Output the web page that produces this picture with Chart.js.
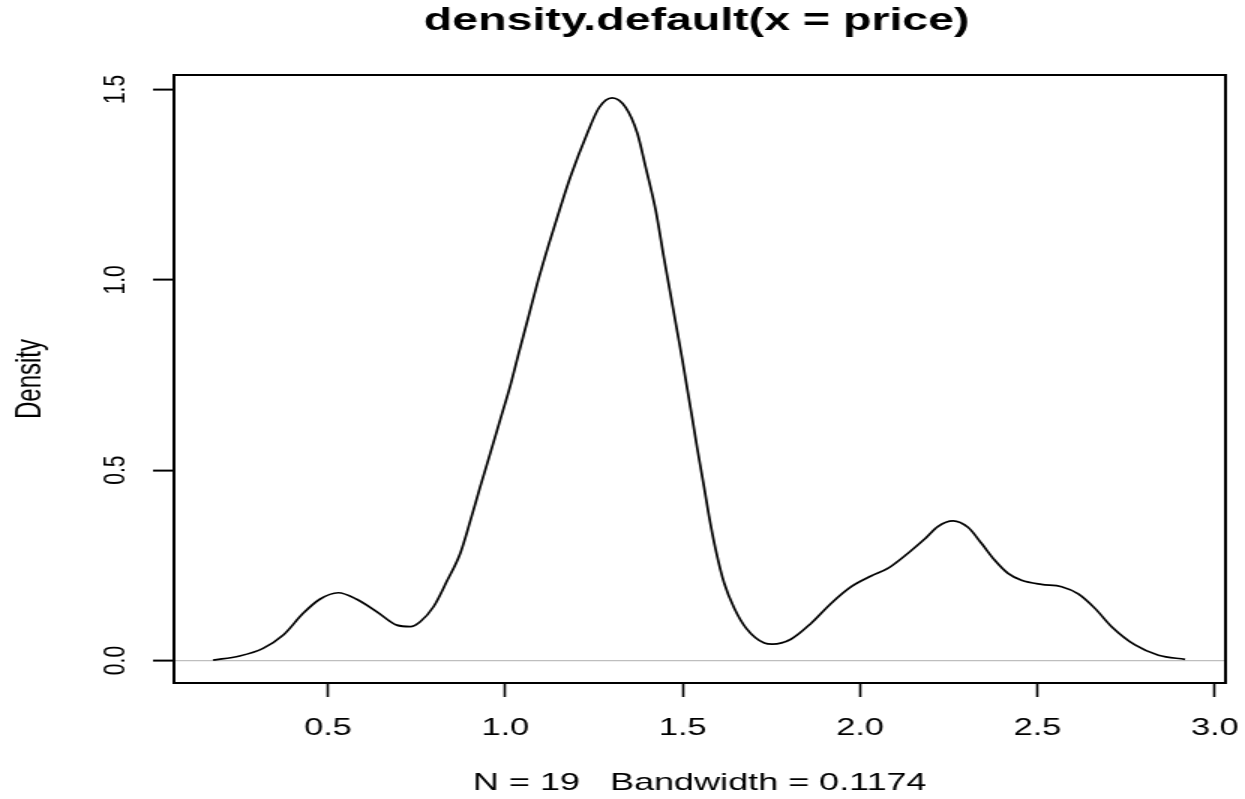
<!DOCTYPE html>
<html>
<head>
<meta charset="utf-8">
<title>density.default(x = price)</title>
<script src="https://cdn.jsdelivr.net/npm/chart.js@4.4.1/dist/chart.umd.min.js"></script>
<style>
    html, body { margin: 0; padding: 0; background: #fff; overflow: hidden; }
</style>
</head>
<body>
<!-- the reference is a stretched R plot, so draw narrow and widen with css -->
<canvas id="densityChart" width="830" height="799" style="width:1245px;height:799px;display:block"></canvas>
<script>
// ==========================
// DATA
// ==========================
const mainTitle = "density.default(x = price)";
const xTitle = "N = 19   Bandwidth = 0.1174";
const yTitle = "Density";

const xTicks = [0.5, 1.0, 1.5, 2.0, 2.5, 3.0];
const yTicks = [0.0, 0.5, 1.0, 1.5];
const xRange = [0.066, 3.030];
const yRange = [-0.059, 1.538];

// points
const price = [
    0.176, 0.251, 0.317, 0.374, 0.430, 0.477, 0.529, 0.581, 0.638, 0.694,
    0.732, 0.760, 0.798, 0.835, 0.873, 0.901, 0.929, 0.958, 0.986, 1.014,
    1.038, 1.066, 1.092, 1.122, 1.155, 1.184, 1.231, 1.264, 1.301, 1.339,
    1.372, 1.395, 1.424, 1.447, 1.466, 1.485, 1.499, 1.508, 1.527, 1.541,
    1.560, 1.574, 1.593, 1.617, 1.645, 1.678, 1.730, 1.753, 1.805, 1.862,
    1.918, 1.975, 2.031, 2.078, 2.135, 2.182, 2.219, 2.262, 2.304, 2.342,
    2.379, 2.417, 2.455, 2.511, 2.568, 2.615, 2.662, 2.709, 2.775, 2.841,
    2.916
];
const density = [
    0.001, 0.012, 0.032, 0.067, 0.124, 0.161, 0.178, 0.161, 0.128, 0.093,
    0.089, 0.102, 0.142, 0.208, 0.282, 0.366, 0.456, 0.546, 0.634, 0.722,
    0.808, 0.906, 0.997, 1.092, 1.190, 1.272, 1.385, 1.452, 1.478, 1.453,
    1.385, 1.298, 1.182, 1.058, 0.960, 0.862, 0.790, 0.740, 0.636, 0.557,
    0.457, 0.380, 0.291, 0.203, 0.138, 0.086, 0.046, 0.043, 0.056, 0.098,
    0.150, 0.194, 0.222, 0.242, 0.282, 0.319, 0.352, 0.367, 0.350, 0.308,
    0.264, 0.229, 0.211, 0.200, 0.194, 0.175, 0.137, 0.089, 0.041, 0.014,
    0.003
];

const fontFamily = '"Liberation Sans", Arial, Helvetica, sans-serif';

// ==========================
// BOX + MAIN TITLE
// ==========================
const plotBox = {
    id: "plotBox",
    afterDraw(chart) {
        const ctx = chart.ctx;
        const a = chart.chartArea;
        ctx.save();
        ctx.strokeStyle = "#000";
        ctx.lineWidth = 2;
        ctx.strokeRect(a.left, a.top, a.right - a.left, a.bottom - a.top);
        ctx.fillStyle = "#000";
        ctx.font = "bold 31px " + fontFamily;
        ctx.textAlign = "center";
        ctx.textBaseline = "alphabetic";
        ctx.fillText(mainTitle, (a.left + a.right) / 2 - 2, 30);
        ctx.restore();
    }
};

// ==========================
// CHART
// ==========================
let points = [];
for (let i = 0; i < price.length; i++) {
    points.push({ x: price[i], y: density[i] });
}

let ctx = document.getElementById("densityChart").getContext("2d");

new Chart(ctx, {
    type: "line",
    data: {
        datasets: [{
            data: points,
            borderColor: "#000",
            borderWidth: 1.7,
            pointRadius: 0,
            fill: false,
            cubicInterpolationMode: "monotone"
        }]
    },
    options: {
        responsive: false,
        animation: false,
        events: [],
        layout: { padding: { top: 75, right: 13, left: 0, bottom: 0 } },
        plugins: {
            legend: { display: false },
            tooltip: { enabled: false },
            title: { display: false }
        },
        scales: {
            x: {
                type: "linear",
                min: xRange[0],
                max: xRange[1],
                afterBuildTicks: s => { s.ticks = xTicks.map(v => ({ value: v })); },
                afterFit: s => {
                    s.height = 116;
                    // keep the last label from shrinking the plot
                    s.paddingLeft = 0;
                    s.paddingRight = 0;
                },
                border: { display: false },
                grid: {
                    drawOnChartArea: false,
                    drawTicks: true,
                    tickLength: 14,
                    tickColor: "#000",
                    tickWidth: 1.6
                },
                ticks: {
                    color: "#000",
                    font: { family: fontFamily, size: 23 },
                    padding: 18,
                    autoSkip: false,
                    minRotation: 0,
                    maxRotation: 0,
                    callback: v => v.toFixed(1)
                },
                title: {
                    display: true,
                    text: xTitle,
                    color: "#000",
                    font: { family: fontFamily, size: 24, lineHeight: 1 },
                    padding: { top: 0, bottom: 4 }
                }
            },
            y: {
                type: "linear",
                min: yRange[0],
                max: yRange[1],
                afterBuildTicks: s => { s.ticks = yTicks.map(v => ({ value: v })); },
                afterFit: s => {
                    s.width = 116;
                    s.paddingTop = 0;
                    s.paddingBottom = 0;
                },
                border: { display: false },
                grid: {
                    drawOnChartArea: true,
                    drawTicks: true,
                    tickLength: 14,
                    tickColor: "#000",
                    tickWidth: 2,
                    lineWidth: 1.2,
                    color: c => (c.tick && c.tick.value === 0) ? "#bebebe" : "rgba(0,0,0,0)"
                },
                ticks: {
                    color: "#000",
                    font: { family: fontFamily, size: 21 },
                    padding: 10,
                    crossAlign: "center",
                    minRotation: 90,
                    maxRotation: 90,
                    callback: v => v.toFixed(1)
                },
                title: {
                    display: true,
                    text: yTitle,
                    color: "#000",
                    font: { family: fontFamily, size: 24, lineHeight: 1 },
                    padding: { top: 8, bottom: 0 }
                }
            }
        }
    },
    plugins: [plotBox]
});
</script>
</body>
</html>
